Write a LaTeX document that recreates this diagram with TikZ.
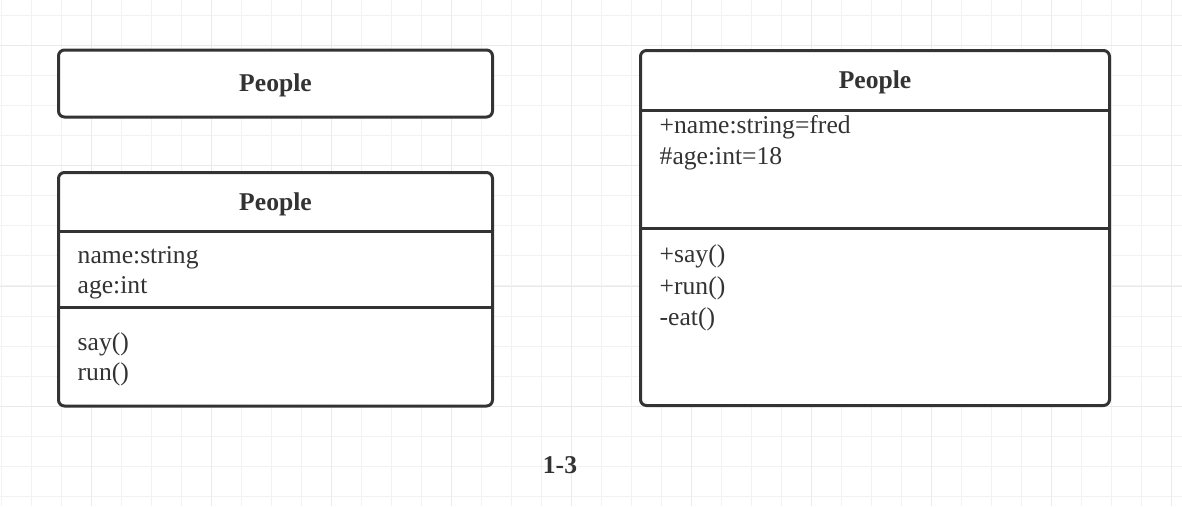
\documentclass[tikz,border=0pt]{standalone}
\usepackage{fontspec}
\newfontfamily\umlfont{Liberation Serif}
\usepackage{xcolor}

\definecolor{ink}{HTML}{333333}
\definecolor{gridminor}{HTML}{F2F2F2}
\definecolor{gridmajor}{HTML}{EAEAEA}

\tikzset{
  classbox/.style={draw=ink, line width=3pt, rounded corners=6pt, fill=white, inner sep=0pt},
  divider/.style={draw=ink, line width=3pt},
  title/.style={font=\umlfont\bfseries\fontsize{25.6}{30.7}\selectfont, text=ink, inner sep=0pt, anchor=base},
  member/.style={font=\umlfont\fontsize{25.6}{30.7}\selectfont, text=ink, inner sep=0pt, anchor=base west}
}

\begin{document}
\begin{tikzpicture}[x=1pt, y=-1pt]
\useasboundingbox (0,0) rectangle (1182,506);
% background grid
\foreach \i in {0,...,39} \draw[gridminor, line width=1pt] (1+30*\i,0) -- (1+30*\i,506);
\foreach \j in {0,...,16} \draw[gridminor, line width=1pt] (0,15+30.1*\j) -- (1182,15+30.1*\j);
\foreach \i in {0,...,9} \draw[gridmajor, line width=1pt] (91+120*\i,0) -- (91+120*\i,506);
\foreach \j in {0,...,3} \draw[gridmajor, line width=1pt] (0,45.2+120.4*\j) -- (1182,45.2+120.4*\j);

% class boxes
\node[classbox, minimum width=434pt, minimum height=67pt] (C1) at (275.5,83.5) {};
\node[classbox, minimum width=434pt, minimum height=233.5pt] (C2) at (275.5,289.25) {};
\node[classbox, minimum width=469pt, minimum height=355pt] (C3) at (875,228) {};
\draw[divider] (C2.west |- 0,231.5) -- (C2.east |- 0,231.5);
\draw[divider] (C2.west |- 0,307.5) -- (C2.east |- 0,307.5);
\draw[divider] (C3.west |- 0,110) -- (C3.east |- 0,110);
\draw[divider] (C3.west |- 0,228) -- (C3.east |- 0,228);

% titles
\node[title] (T1) at (275.5,91.7) {People};
\node[title] (T2) at (275.5,210.4) {People};
\node[title] (T3) at (875,88.4) {People};

% members
\node[member] (A21) at (77.5,263.3) {name:string};
\node[member] (A22) at (77.5,293.6) {age:int};
\node[member] (M21) at (77.5,350.7) {say()};
\node[member] (M22) at (77.5,380.5) {run()};
\node[member] (A31) at (659.5,133.3) {+name:string=fred};
\node[member] (A32) at (659.5,164.5) {\#age:int=18};
\node[member] (M31) at (659.5,262.7) {+say()};
\node[member] (M32) at (659.5,294) {+run()};
\node[member] (M33) at (659.5,325) {-eat()};

% caption
\node[title] (CAP) at (560,473.3) {1-3};
\end{tikzpicture}
\end{document}
